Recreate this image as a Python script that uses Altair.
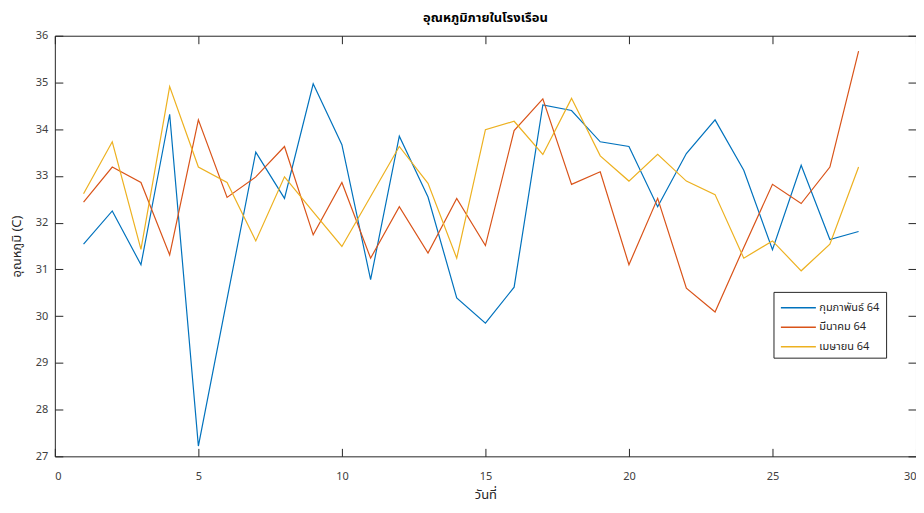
import altair as alt
import pandas as pd

days = list(range(1, 29))
series_names = ["กุมภาพันธ์ 64", "มีนาคม 64", "เมษายน 64"]
colors = ["#0072BD", "#D95319", "#EDB120"]

feb = [31.54, 32.25, 31.10, 34.32, 27.22, 30.37, 33.51, 32.52, 34.97, 33.67,
       30.78, 33.85, 32.55, 30.39, 29.85, 30.62, 34.52, 34.40, 33.73, 33.63,
       32.34, 33.48, 34.20, 33.12, 31.42, 33.23, 31.64, 31.81]
mar = [32.44, 33.19, 32.86, 31.31, 34.20, 32.54, 32.98, 33.63, 31.74, 32.86,
       31.24, 32.34, 31.35, 32.52, 31.51, 33.97, 34.65, 32.82, 33.09, 31.10,
       32.52, 30.60, 30.09, 31.47, 32.82, 32.41, 33.19, 35.67]
apr = [32.62, 33.73, 31.43, 34.91, 33.19, 32.86, 31.61, 32.98, 32.23, 31.49,
       32.56, 33.63, 32.84, 31.24, 33.99, 34.17, 33.46, 34.66, 33.43, 32.89,
       33.46, 32.89, 32.60, 31.24, 31.61, 30.97, 31.54, 33.19]

x_ticks = [0, 5, 10, 15, 20, 25, 30]
y_ticks = [27, 28, 29, 30, 31, 32, 33, 34, 35, 36]

rows = []
for name, vals in zip(series_names, [feb, mar, apr]):
    for d, v in zip(days, vals):
        rows.append({"day": d, "temp": v, "series": name})
df = pd.DataFrame(rows)

FONT = "Tahoma, 'Noto Sans Thai', 'Noto Sans', sans-serif"
AX = "#262626"

xscale = alt.Scale(domain=[0, 30], nice=False, zero=False)
yscale = alt.Scale(domain=[27, 36], nice=False, zero=False)

tick_axis = dict(domain=False, grid=False, tickColor=AX, tickSize=8, offset=-8)
label_axis = dict(labelColor="#404040", labelFont=FONT, labelFontSize=11,
                  titleFont=FONT, titleFontSize=13, titleColor="#262626",
                  titleFontWeight="normal")

lines = alt.Chart(df).mark_line(strokeWidth=1.2).encode(
    x=alt.X("day:Q", scale=xscale,
            axis=alt.Axis(values=x_ticks, title="วันที่", labelPadding=14,
                          titlePadding=7, **tick_axis, **label_axis)),
    y=alt.Y("temp:Q", scale=yscale,
            axis=alt.Axis(values=y_ticks, title="อุณหภูมิ (C)", labelPadding=7,
                          titlePadding=12, **tick_axis, **label_axis)),
    color=alt.Color("series:N",
                    scale=alt.Scale(domain=series_names, range=colors),
                    legend=alt.Legend(title=None, orient="none", legendX=721, legendY=257,
                                      symbolType="M-1.95,0L1.95,0", symbolSize=324,
                                      symbolStrokeWidth=1.5, symbolOffset=9,
                                      labelFont=FONT, labelFontSize=11,
                                      labelColor="#262626", labelOffset=11,
                                      strokeColor="#262626", fillColor="white",
                                      padding=6, rowPadding=4.5)),
)

# extra top and right ticks (MATLAB box style)
frame = alt.Chart(df).mark_line(opacity=0).encode(
    x=alt.X("day:Q", scale=xscale,
            axis=alt.Axis(values=x_ticks, orient="top", labels=False, title=None,
                          **tick_axis)),
    y=alt.Y("temp:Q", scale=yscale,
            axis=alt.Axis(values=y_ticks, orient="right", labels=False, title=None,
                          **tick_axis)),
)

chart = alt.layer(lines, frame).resolve_axis(
    x="independent", y="independent"
).properties(
    width=864, height=422,
    title=alt.Title("อุณหภูมิภายในโรงเรือน", font=FONT, fontSize=13,
                    fontWeight="bold", color="#000000", anchor="middle", offset=5),
    autosize=alt.AutoSizeParams(type="none"),
    padding={"left": 47, "top": 27, "right": 0, "bottom": 48},
    background="white",
).configure_view(stroke=AX, strokeWidth=1)

chart.save("out.html", embed_options={"renderer": "svg", "actions": False})
